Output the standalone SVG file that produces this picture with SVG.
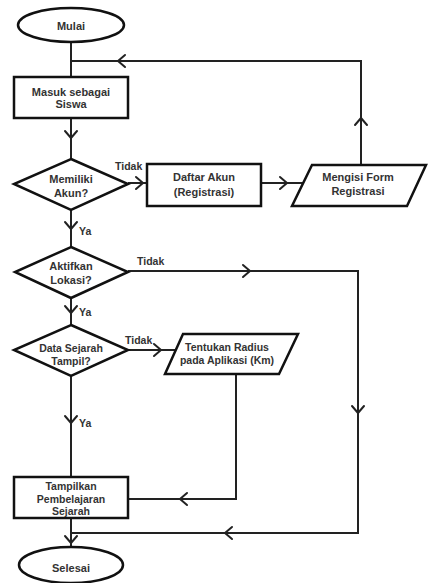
<svg xmlns="http://www.w3.org/2000/svg" xmlns:xlink="http://www.w3.org/1999/xlink" width="428" height="583" viewBox="0 0 428 583">
<style>
.shape{fill:#fff;stroke:#111;stroke-width:2.5}
.line{fill:none;stroke:#222;stroke-width:2}
.arr{fill:none;stroke:#222;stroke-width:2;stroke-linecap:round;stroke-linejoin:round}
text{font-family:"Liberation Sans",Arial,sans-serif;font-weight:bold;fill:#333;font-size:11px}
.c{text-anchor:middle}
.lbl{font-size:10.5px}
</style>
<defs>
<path id="chev" class="arr" d="M-7,-6 L0,0 L-7,6"/>
</defs>
<rect width="428" height="583" fill="#fff"/>
<g id="connectors">
<polyline class="line" points="71,42 71,77"/>
<polyline class="line" points="361,165 361,61 71,61"/>
<polyline class="line" points="71,118 71,159"/>
<polyline class="line" points="128,183 147,183"/>
<polyline class="line" points="261,183 303,183"/>
<polyline class="line" points="71,210 71,247"/>
<polyline class="line" points="128,271 358,271 358,533 71,533"/>
<polyline class="line" points="71,298 71,325"/>
<polyline class="line" points="128,350 176,350"/>
<polyline class="line" points="71,376 71,477"/>
<polyline class="line" points="236,374 236,499 128,499"/>
<polyline class="line" points="71,518 71,546"/>
<use href="#chev" transform="translate(361,118) rotate(-90)"/>
<use href="#chev" transform="translate(118,61) rotate(180)"/>
<use href="#chev" transform="translate(71,138) rotate(90)"/>
<use href="#chev" transform="translate(143,183)"/>
<use href="#chev" transform="translate(287,183)"/>
<use href="#chev" transform="translate(71,229) rotate(90)"/>
<use href="#chev" transform="translate(250,271)"/>
<use href="#chev" transform="translate(358,413) rotate(90)"/>
<use href="#chev" transform="translate(225,533) rotate(180)"/>
<use href="#chev" transform="translate(71,313) rotate(90)"/>
<use href="#chev" transform="translate(161,350)"/>
<use href="#chev" transform="translate(71,423) rotate(90)"/>
<use href="#chev" transform="translate(180,499) rotate(180)"/>
<use href="#chev" transform="translate(71,543) rotate(90)"/>
<text class="lbl" x="115" y="170">Tidak</text>
<text class="lbl" x="137" y="265">Tidak</text>
<text class="lbl" x="125" y="344">Tidak</text>
<text class="lbl" x="79" y="235">Ya</text>
<text class="lbl" x="79" y="316">Ya</text>
<text class="lbl" x="79" y="427">Ya</text>
</g>
<g id="mulai">
<ellipse class="shape" cx="71" cy="25" rx="53" ry="17"/>
<text class="c" x="71" y="30">Mulai</text>
</g>
<g id="masuk">
<rect class="shape" x="14" y="77" width="114" height="41"/>
<text class="c" x="71" y="96">Masuk sebagai</text>
<text class="c" x="71" y="108">Siswa</text>
</g>
<g id="memiliki">
<polygon class="shape" points="71,159 128,184 71,210 14,184"/>
<text class="c" x="71" y="183">Memiliki</text>
<text class="c" x="71" y="197">Akun?</text>
</g>
<g id="daftar">
<rect class="shape" x="147" y="164" width="114" height="42"/>
<text class="c" x="204" y="181">Daftar Akun</text>
<text class="c" x="204" y="196">(Registrasi)</text>
</g>
<g id="mengisi">
<polygon class="shape" points="312,165 426,165 407,206 292,206"/>
<text class="c" x="358" y="181">Mengisi Form</text>
<text class="c" x="358" y="195">Registrasi</text>
</g>
<g id="aktifkan">
<polygon class="shape" points="71,247 128,272 71,298 15,272"/>
<text class="c" x="71" y="270">Aktifkan</text>
<text class="c" x="71" y="284">Lokasi?</text>
</g>
<g id="datasejarah">
<polygon class="shape" points="71,325 128,350 71,376 14,350"/>
<text class="c lbl" x="71" y="352">Data Sejarah</text>
<text class="c lbl" x="71" y="365">Tampil?</text>
</g>
<g id="tentukan">
<polygon class="shape" points="183,334 298,334 279,374 165,374"/>
<text class="c lbl" x="227" y="351">Tentukan Radius</text>
<text class="c lbl" x="227" y="364">pada Aplikasi (Km)</text>
</g>
<g id="tampilkan">
<rect class="shape" x="14" y="477" width="114" height="41"/>
<text class="c lbl" x="71" y="490">Tampilkan</text>
<text class="c lbl" x="71" y="503">Pembelajaran</text>
<text class="c lbl" x="71" y="515">Sejarah</text>
</g>
<g id="selesai">
<ellipse class="shape" cx="71" cy="565" rx="52" ry="18"/>
<text class="c" x="71" y="572">Selesai</text>
</g>
</svg>
